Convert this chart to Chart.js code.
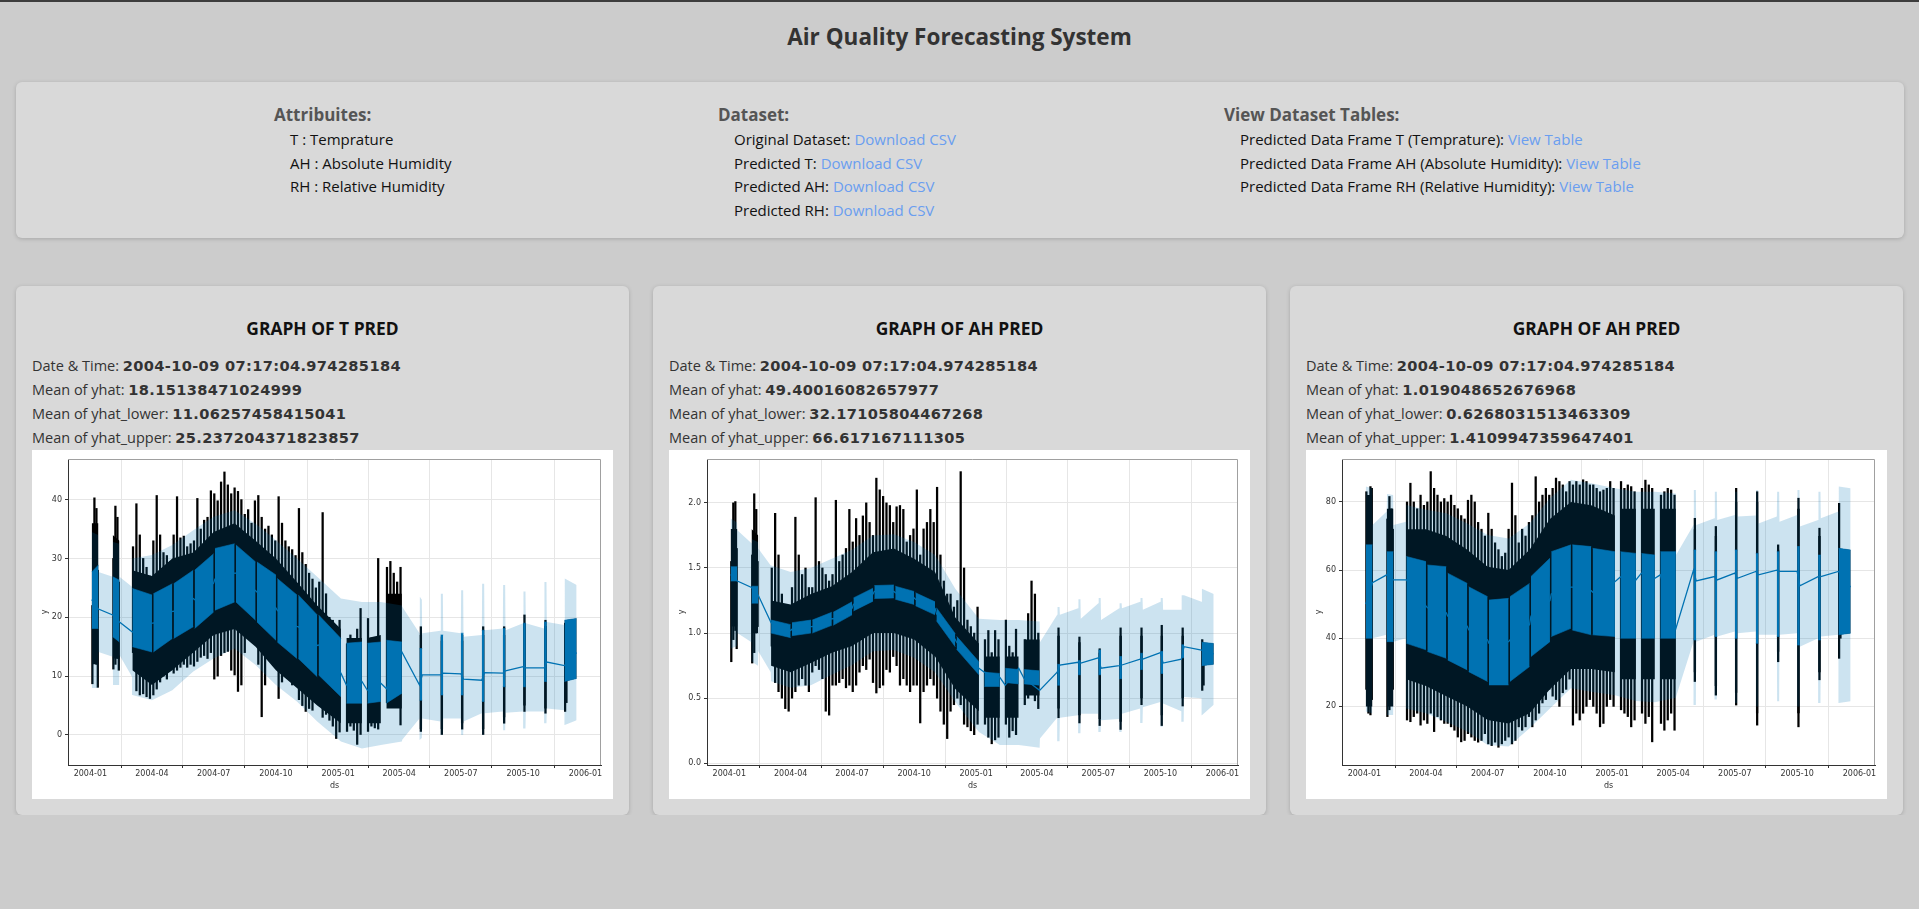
<!DOCTYPE html>
<html>
<head>
<meta charset="utf-8">
<title>Air Quality Forecasting System</title>
<script src="https://cdn.jsdelivr.net/npm/chart.js@4.4.1/dist/chart.umd.min.js"></script>
<style>
  body{margin:0;background:#cccccc;font-family:"Open Sans",sans-serif;border-top:2px solid #3d3d3d;}
  h1{margin:0;height:70px;line-height:70px;text-align:center;font-size:22.5px;font-weight:700;color:#333;}
  .info{margin:10px 15px 0 16px;height:156px;box-sizing:border-box;padding:21px 0 0 258px;background:#d9d9d9;border-radius:6px;box-shadow:0 1px 4px rgba(0,0,0,.18);display:flex;}
  .info .col{flex:none}
  .info .c1{width:444px}.info .c2{width:506px}
  .info h4{margin:0 0 1px;font-size:17px;line-height:24px;color:#555;font-weight:700}
  .info p{margin:0 0 0 16px;font-size:15px;line-height:23.5px;color:#111}
  .info a{color:#6a9ef0;text-decoration:none}
  .row{display:flex;gap:24px;margin:48px 16px 0 16px;}
  .card{flex:1;background:#d9d9d9;border-radius:6px;box-shadow:0 1px 4px rgba(0,0,0,.18);padding:16px;}
  .card h3{margin:14px 0 0;height:24px;line-height:24px;text-align:center;font-size:17.4px;font-weight:700;color:#111}
  .stats{margin-top:14px}
  .stats div{font-size:14.5px;line-height:24px;color:#333;white-space:nowrap}
  .stats b{font-family:"DejaVu Sans",sans-serif;font-size:14.6px;letter-spacing:0.35px;font-weight:700}
  .plot{width:581px;height:349px;background:#fff}
  canvas{display:block}
</style>
</head>
<body>
<h1>Air Quality Forecasting System</h1>
<div class="info">
  <div class="col c1">
    <h4>Attribuites:</h4>
    <p>T : Temprature</p>
    <p>AH : Absolute Humidity</p>
    <p>RH : Relative Humidity</p>
  </div>
  <div class="col c2">
    <h4>Dataset:</h4>
    <p>Original Dataset: <a href="#">Download CSV</a></p>
    <p>Predicted T: <a href="#">Download CSV</a></p>
    <p>Predicted AH: <a href="#">Download CSV</a></p>
    <p>Predicted RH: <a href="#">Download CSV</a></p>
  </div>
  <div class="col">
    <h4>View Dataset Tables:</h4>
    <p>Predicted Data Frame T (Temprature): <a href="#">View Table</a></p>
    <p>Predicted Data Frame AH (Absolute Humidity): <a href="#">View Table</a></p>
    <p>Predicted Data Frame RH (Relative Humidity): <a href="#">View Table</a></p>
  </div>
</div>
<div class="row">
  <div class="card">
    <h3>GRAPH OF T PRED</h3>
    <div class="stats">
      <div>Date &amp; Time: <b>2004-10-09 07:17:04.974285184</b></div>
      <div>Mean of yhat: <b>18.15138471024999</b></div>
      <div>Mean of yhat_lower: <b>11.06257458415041</b></div>
      <div>Mean of yhat_upper: <b>25.237204371823857</b></div>
    </div>
    <div class="plot"><canvas id="chart-t" width="581" height="349"></canvas></div>
  </div>
  <div class="card">
    <h3>GRAPH OF AH PRED</h3>
    <div class="stats">
      <div>Date &amp; Time: <b>2004-10-09 07:17:04.974285184</b></div>
      <div>Mean of yhat: <b>49.40016082657977</b></div>
      <div>Mean of yhat_lower: <b>32.17105804467268</b></div>
      <div>Mean of yhat_upper: <b>66.617167111305</b></div>
    </div>
    <div class="plot"><canvas id="chart-ah" width="581" height="349"></canvas></div>
  </div>
  <div class="card">
    <h3>GRAPH OF AH PRED</h3>
    <div class="stats">
      <div>Date &amp; Time: <b>2004-10-09 07:17:04.974285184</b></div>
      <div>Mean of yhat: <b>1.019048652676968</b></div>
      <div>Mean of yhat_lower: <b>0.6268031513463309</b></div>
      <div>Mean of yhat_upper: <b>1.4109947359647401</b></div>
    </div>
    <div class="plot"><canvas id="chart-rh" width="581" height="349"></canvas></div>
  </div>
</div>
<script>
// ============================================================
// DATA  (x = days since 2004-01-01)
// ============================================================
const TICK_DAYS=[0,91,182,274,366,456,547,639,731];
const TICK_LABELS=['2004-01','2004-04','2004-07','2004-10','2005-01','2005-04','2005-07','2005-10','2006-01'];

// observed y (black dots): min/max per sampled day
const OBS_DAYS=[3,6,9,11, 34,37,40,42, 63,68,73,78,83,88, 93,98,103,108,113,118, 123,128,133,138,143,148,
  153,158,163,168,173,178, 183,188,193,198,203,208,213, 218,223,228,233,238,243, 248,253,258,263,268,273,
  278,283,288,293,298,303, 308,313,318,323,328,333, 338,343,348,353,358,363,368, 379,384,389,394,399,
  410,415,420,425, 438,443,448,453,458, 488,519,549,580,611,641,672, 701,703];

// where the dots are dense (envelope of the dot cloud)
const CORE_DAYS=[2,12,22, 33,43,52, 62,91,121,152,182,213,244,274,305,335,370,374, 378,401,405, 409,429,433,
  437,460,470, 486,490,500, 517,521,530, 547,551,560, 578,582,590, 609,613,620, 639,643,650, 670,674,690, 700,718];

// blocks of hourly forecast (start, end, gap): daily swing of yhat
const FILL_DAYS=[2,12,22, 33,43,52, 62,91,92, 93,121,122, 123,152,153, 154,182,183, 184,213,214, 215,244,245,
  246,274,275, 276,305,306, 307,335,336, 337,370,374, 378,401,405, 409,429,433, 437,460,470, 486,490,500,
  517,521,530, 547,551,560, 578,582,590, 609,613,620, 639,643,650, 670,674,690, 700,718];

// yhat trend line
const YHAT_DAYS=[2,12, 33,43, 62,91, 93,121, 123,152, 154,182, 184,213, 215,244, 246,274, 276,305, 307,335,
  337,370, 378,401, 409,429, 437,460, 486,490, 517,521, 547,551, 578,582, 609,613, 639,643, 670,674, 700,718];

// uncertainty interval
const BAND_DAYS=[2,11.5,12, 33,33.5,42.5,43, 61.5,62, 91,121,152,182,213,244,274,305,335,370,401,429,460, 460.5,
  486,486.5,489.5,490, 517,517.5,520.5,521, 547,547.5,550.5,551, 578,578.5,581.5,582,
  609,609.5,612.5,613, 639,639.5,642.5,643, 670,670.5,673.5,674, 700,700.5,718];

// ---- T ----
const T_OBS_LO=[8.7,14,12,8.1, 11.2,12,13,11, 14,7.5,6.8,7,6.5,6.2, 6.8,7.8,9,10,9.5,11, 10.5,11,11.5,12,11.5,12,
  11.7,12.5,13.2,13.5,13,14, 9.5,10,13.5,14,14.2,11,10.2, 7.4,8.5,14,17,16.5,18, 12,3.1,8.5,13,13.5,13,
  6.2,9,11,10,8.5,9, 6,5,4,4.5,4.2,6.5, 5,3,3.5,2.5,1.5,-0.6,0.5, 0.6,1.5,0.8,-1.6,0,
  0.6,1.5,1.2,1, 5.5,6,5.8,5.6,1.7, 0.6,0,1,0,2,4,3.7, 4,5.5];
const T_OBS_HI=[22,40.3,38.5,28, 30,38.9,37,26, 32,39.3,34,30,28.5,27, 33,40.7,34,31,30.5,29.5, 34,40.5,33.5,33.8,32,32.5,
  33,40.2,35,36.5,37,41.5, 41,39.8,43,44.7,42.5,41,42, 41.4,40,37.5,38.3,36,39.8, 40.7,37,35,35.5,34,33,
  40.5,36,33,32,31.5,30.5, 38.5,31,29,27.5,26.5,25, 26,37.8,24,20,19.5,17,19.5, 15.5,17,16,18,21.5,
  19.8,16.5,16,30, 28.5,29.5,27.5,26,28.5, 18.4,16.7,17,18.4,18.4,20.4,19.5, 19,17.5];
const T_CORE_HI=[36,36,null, 34,33,null, 28,27,30,31,34.5,36,33,30,26,22,18,null, 16.5,16.5,null, 16.5,17,null,
  24,24,null, 17,17,null, 16,16,null, 16,16,null, 17,17,null, 17,17,null, 19,19,null, 18.5,18.5,null, 19.5,19.8];
const T_CORE_LO=[12,12,null, 13,13,null, 11,8.5,11,14,17,18,15,11,8,5,2,null, 2,2,null, 2,2,null,
  4.5,4.5,null, 1,1,null, 1,1,null, 2,2,null, 1,1,null, 3,3,null, 5,5,null, 4.5,4.5,null, 9.1,9.6];
const T_FILL_HI=[27.7,28.9,null, 26.9,26.3,null, 24.9,23.8,null, 24.0,25.7,null, 25.7,28.0,null, 28.0,30.8,null,
  31.7,32.5,null, 32.3,29.4,null, 29.4,27.2,null, 26.6,23.8,null, 23.8,20.4,null, 20.4,16.4,null,
  15.6,15.8,null, 15.6,15.8,null, 16.1,15.8,null, 14.7,14.7,null, 17.0,17.0,null, 17.3,17.3,null,
  17.8,17.8,null, 18.1,18.1,null, 19.0,19.0,null, 19.2,19.2,null, 19.5,19.8];
const T_FILL_LO=[18.1,18.1,null, 16.7,15.8,null, 15.0,14.1,null, 14.1,16.4,null, 16.4,18.4,null, 18.1,20.9,null,
  21.2,22.6,null, 22.6,19.5,null, 19.2,16.1,null, 15.8,13.0,null, 13.0,9.9,null, 10.2,6.5,null,
  5.4,5.4,null, 5.4,5.7,null, 5.4,7.1,null, 5.9,5.9,null, 6.8,6.8,null, 6.8,6.8,null,
  5.7,5.7,null, 8.2,8.2,null, 8.2,8.2,null, 9.1,9.1,null, 9.1,9.6];
const T_YHAT=[23,21.4, 20.4,19.2, 17.5,19.0, 19.0,21.0, 21.0,23.2, 23.0,25.8, 26.5,27.5, 27.5,24.5, 24.3,21.6,
  21.2,18.4, 18.4,15.2, 15.3,10.5, 8.5,9.1, 7.6,8.8, 7.9,14.1, 8.5,10.2, 10.2,10.5, 10.4,9.5, 9.3,10.6,
  10.5,10.9, 11.6,11.4, 11.4,12.4, 11.8,14];
const T_BAND_HI=[34.5,34.0,27.7, 26.9,32.8,32.5,26.9, 25.2,30.0, 30.6,32.3,34.8,37.1,38.2,35.9,33.1,30.0,26.9,23.2,22.6,22.6,22.0, 21.8,
  17.3,23.5,23.0,17.3, 17.7,24.0,24.0,17.7, 17.3,24.6,24.6,16.7, 17.0,25.7,25.7,17.8,
  18.1,25.5,25.5,17.8, 19.0,24.4,24.4,19.0, 18.1,26.0,26.0,19.2, 18.7,26.6,25.5];
const T_BAND_LO=[8.0,8.0,14.1, 13.3,8.5,8.5,13.6, 9.9,6.8, 5.9,7.6,10.8,13.0,14.7,11.9,8.5,5.7,2.3,-1.1,-2.3,-1.7,-1.1, -0.8,
  2.8,-0.8,-0.5,2.8, 2.3,0.0,0.0,2.8, 2.8,0.0,0.0,2.3, 3.7,0.0,0.0,3.7,
  4.0,0.8,0.8,3.8, 4.0,1.1,1.1,4.0, 4.0,2.0,2.0,4.5, 4.2,1.7,2.5];
const T_YTICKS=[0,10,20,30,40];

// ---- AH ----
const AH_OBS_LO=[0.78,0.95,1.02,0.88, 0.77,0.85,1.0,1.05, 0.9,0.62,0.55,0.5,0.42,0.4, 0.5,0.55,0.6,0.65,0.6,0.55,
  0.7,0.75,0.72,0.65,0.4,0.37, 0.6,0.6,0.62,0.65,0.58,0.6, 0.55,0.6,0.7,0.75,0.72,0.8,0.62,
  0.54,0.58,0.6,0.72,0.7,0.82, 0.75,0.6,0.65,0.6,0.55,0.6, 0.6,0.31,0.55,0.6,0.65,0.6,
  0.5,0.4,0.3,0.19,0.4,0.45, 0.5,0.45,0.3,0.28,0.25,0.22,0.3, 0.3,0.2,0.15,0.18,0.2,
  0.3,0.2,0.25,0.22, 0.45,0.5,0.55,0.48,0.42, 0.35,0.31,0.29,0.26,0.45,0.29,0.44, 0.56,0.6];
const AH_OBS_HI=[1.55,2.0,2.01,1.65, 1.6,2.07,1.95,1.55, 1.5,1.92,1.6,1.3,1.2,1.15, 1.35,1.89,1.6,1.45,1.5,1.35,
  1.35,2.04,1.55,1.5,1.45,1.4, 1.45,2.02,1.55,1.6,1.65,1.95, 1.7,1.88,1.75,1.9,2.0,1.85,1.75,
  2.19,2.1,2.05,2.0,1.98,1.85, 1.97,1.98,1.95,1.7,1.75,1.8, 2.1,1.6,1.8,1.85,1.95,1.85,
  2.12,1.6,1.4,1.3,1.3,1.2, 1.25,2.24,1.5,1.1,1.05,1.0,1.2, 0.95,1.02,0.85,1.02,0.95,
  1.1,0.9,0.85,1.03, 0.95,1.15,1.4,1.3,1.0, 1.04,0.97,0.88,1.04,1.04,1.06,1.04, 0.95,0.9];
const AH_CORE_HI=[1.8,1.8,null, 1.8,1.75,null, 1.25,1.22,1.3,1.36,1.47,1.62,1.65,1.57,1.47,1.12,0.92,null, 0.82,0.82,null,
  0.82,0.82,null, 0.95,0.95,null, 0.98,0.98,null, 0.93,0.93,null, 0.85,0.85,null, 0.98,0.98,null,
  0.98,0.98,null, 0.98,0.98,null, 0.98,0.98,null, 0.93,0.92];
const AH_CORE_LO=[1.05,1.05,null, 1.0,1.0,null, 0.75,0.7,0.77,0.85,0.9,1.0,1.0,0.95,0.82,0.57,0.4,null, 0.35,0.35,null,
  0.35,0.35,null, 0.52,0.52,null, 0.42,0.42,null, 0.37,0.37,null, 0.34,0.34,null, 0.32,0.32,null,
  0.5,0.5,null, 0.37,0.37,null, 0.5,0.5,null, 0.75,0.76];
const AH_FILL_HI=[1.51,1.51,null, 1.36,1.36,null, 1.10,1.065,null, 1.08,1.10,null, 1.10,1.16,null, 1.16,1.24,null,
  1.27,1.345,null, 1.365,1.37,null, 1.36,1.32,null, 1.31,1.24,null, 1.195,0.995,null, 0.975,0.78,null,
  0.70,0.69,null, 0.73,0.72,null, 0.72,0.71,null, 0.76,0.76,null, 0.79,0.79,null, 0.87,0.87,null,
  0.82,0.82,null, 0.845,0.845,null, 0.86,0.86,null, 0.91,0.91,null, 0.93,0.92];
const AH_FILL_LO=[1.40,1.40,null, 1.23,1.23,null, 1.00,0.965,null, 0.98,1.00,null, 1.00,1.06,null, 1.06,1.14,null,
  1.17,1.245,null, 1.265,1.27,null, 1.26,1.22,null, 1.21,1.14,null, 1.095,0.895,null, 0.875,0.68,null,
  0.59,0.59,null, 0.62,0.61,null, 0.61,0.60,null, 0.60,0.60,null, 0.68,0.68,null, 0.68,0.68,null,
  0.65,0.65,null, 0.72,0.72,null, 0.69,0.69,null, 0.81,0.81,null, 0.75,0.76];
const AH_YHAT=[1.45,1.40, 1.35,1.29, 1.08,1.02, 1.03,1.05, 1.05,1.11, 1.11,1.19, 1.22,1.30, 1.32,1.32, 1.31,1.27,
  1.26,1.19, 1.15,0.95, 0.93,0.73, 0.70,0.66, 0.60,0.73, 0.65,0.56, 0.70,0.755, 0.776,0.77, 0.81,0.73,
  0.75,0.755, 0.80,0.80, 0.85,0.77, 0.80,0.896, 0.87,0.84];
const AH_BAND_HI=[1.88,1.85,1.79, 1.69,1.72,1.70,1.65, 1.52,1.52, 1.47,1.50,1.57,1.64,1.75,1.76,1.70,1.60,1.34,1.11,1.10,1.10,1.09, 0.93,
  1.14,1.20,1.20,1.14, 1.19,1.26,1.26,1.11, 1.23,1.27,1.27,1.10, 1.19,1.23,1.23,1.19,
  1.24,1.27,1.27,1.18, 1.24,1.27,1.27,1.18, 1.18,1.29,1.29,1.29, 1.24,1.34,1.30];
const AH_BAND_LO=[0.88,0.90,1.00, 0.93,0.78,0.75,0.86, 0.70,0.63, 0.58,0.60,0.68,0.755,0.86,0.87,0.81,0.70,0.47,0.24,0.14,0.14,0.12, 0.19,
  0.35,0.17,0.17,0.35, 0.37,0.23,0.23,0.38, 0.38,0.24,0.24,0.33, 0.34,0.24,0.24,0.38,
  0.42,0.31,0.31,0.43, 0.47,0.28,0.28,0.46, 0.40,0.32,0.32,0.51, 0.50,0.37,0.45];
const AH_YTICKS=[0,0.5,1,1.5,2];

// ---- RH ----
const RH_OBS_LO=[25,18,17.5,22, 17,19,22,25, 16,15.5,17,18,14.5,16, 15,18,12.6,17,16,15, 15,14,13,11,9.6,10,
  12,11,10,9.5,10,12, 9,8.5,9.5,8,9,10,11, 9,10,14,13,14,17, 14,16,18,21,22,25, 23,22,20,24,25,28,
  14.5,18,16,18,20,22, 20,18,14,15,20,22,20, 19,18,17,14,16, 18,15,17,9.6, 15,13,16,18,13,
  27.3,23.3,20.4,14.5,33.1,14,27.8, 34.1,40];
const RH_OBS_HI=[83,80,84.5,84, 75,81.6,78,72, 80,85.5,80,78,82,79, 80,88.9,84,82,80,81, 80,82,79,78,76,75,
  80.5,82,80,74,72,70, 76.7,72,68,66,64,65,72, 85.5,76,68,72,70,74, 76,87.4,80,82,84,82, 84,87,86,85,83,86,
  85,86,85,86.5,86,85, 85,84,83,83.5,84,86,84, 86,84,85,84.5,83, 84,86.4,85,84, 82,83,84,83.5,82,
  75.2,72.8,84,83,67.4,81.1,72.3, 79.6,66];
const RH_CORE_HI=[82,82,null, 78,78,null, 72,72,70,66,61,60,66,75,80,79,76,null, 78,78,null, 78,78,null,
  78,78,null, 72,72,null, 70,70,null, 80,80,null, 80,80,null, 66,66,null, 78,78,null, 70,70,null, 66.4,65.9];
const RH_CORE_LO=[20,20,null, 20,20,null, 28,26,23,20,16,15,18,25,31,31,30,null, 28,28,null, 28,28,null,
  28,28,null, 30,30,null, 26,26,null, 24,24,null, 18,18,null, 36,36,null, 18,18,null, 30,30,null, 41.0,41.5];
const RH_FILL_HI=[67.4,67.4,null, 65.4,65.4,null, 64.0,62.5,null, 61.5,61.0,null, 59.1,56.1,null, 55.1,52.2,null,
  51.2,51.7,null, 52.2,56.1,null, 58.1,63.5,null, 65.4,67.4,null, 67.4,66.9,null, 66.4,65.4,null,
  65.4,64.9,null, 64.9,64.4,null, 65.4,65.4,null, 65.9,65.9,null, 65.4,65.4,null, 65.9,65.9,null,
  64.9,64.9,null, 65.4,65.4,null, 66.9,66.9,null, 64.4,64.4,null, 66.4,65.9];
const RH_FILL_LO=[40.0,40.0,null, 39.0,39.0,null, 38.5,36.6,null, 36.1,34.1,null, 33.6,30.7,null, 30.2,27.3,null,
  26.3,26.3,null, 27.3,31.7,null, 34.6,39.0,null, 40.5,42.9,null, 42.4,41.0,null, 41.0,40.5,null,
  40.0,40.0,null, 40.0,40.0,null, 40.0,40.0,null, 39.5,39.5,null, 40.5,40.5,null, 40.0,40.0,null,
  38.5,38.5,null, 40.5,40.5,null, 38.0,38.0,null, 39.5,39.5,null, 41.0,41.5];
const RH_YHAT=[50,56.3, 58.6,57.1, 57.1,49.5, 49,47.5, 46.5,43.5, 42.5,39.5, 38.5,39, 39.5,44, 46.5,51, 53,55,
  55,54, 53.5,56.6, 58,57.1, 59.1,57.6, 58.6,42.9, 60.0,56.8, 58.1,57.1, 59.1,57.6, 59.6,58.6,
  60.0,59.6, 59.6,55.4, 58.1,58.1, 59.6,55];
const RH_BAND_HI=[84.5,84.0,73.2, 77.2,82.3,82.0,73.2, 74.2,79.1, 77.7,76.7,73.7,70.3,69.3,73.7,81.1,86.5,85.5,84.0,83.0,83.0,82.5, 64.5,
  73.2,83.5,83.5,73.2, 75.2,83.0,83.0,74.7, 76.2,83.0,83.0,75.7, 76.0,83.5,83.5,73.7,
  75.7,83.0,83.0,74.2, 76.2,83.5,83.5,72.8, 74.7,83.0,83.0,75.2, 77.2,84.5,84.0];
const RH_BAND_LO=[18.5,18.0,40.0, 41.0,17.5,17.5,39.0, 40.0,19.4, 18.0,15.5,12.6,8.7,8.2,13.6,19.4,25.3,24.3,23.3,21.6,21.2,22.5, 23.0,
  39.0,20.4,20.4,39.0, 41.0,22.0,22.0,40.5, 42.0,21.0,21.0,41.5, 42.0,20.0,20.0,41.0,
  41.0,21.5,21.5,41.0, 41.5,20.0,20.0,37.5, 40.0,21.0,21.0,40.5, 41.0,21.0,21.5];
const RH_YTICKS=[20,40,60,80];

// ============================================================
// CHARTS
// ============================================================
const PROPHET_BLUE='#0072B2';
const AXIS_FONT={family:'DejaVu Sans',size:8};

function pts(days,vals){return days.map((d,i)=>({x:d,y:vals[i]}));}
function cols(lo,hi){return OBS_DAYS.map((d,i)=>({x:d,y:[lo[i],hi[i]]}));}
function area(days,vals,o){return Object.assign({data:pts(days,vals),pointRadius:0,borderWidth:0,borderColor:'transparent'},o);}

// matplotlib-like top/right spines
const spines={id:'spines',afterDraw(c){
  const {ctx,chartArea:a}=c;
  ctx.save();ctx.strokeStyle='#a0a0a0';ctx.lineWidth=1;
  ctx.beginPath();ctx.moveTo(a.left,a.top+0.5);ctx.lineTo(a.right-0.5,a.top+0.5);ctx.lineTo(a.right-0.5,a.bottom);ctx.stroke();
  ctx.restore();
}};

function renderForecast(id,s){
  const grid={color:'#e6e6e6',lineWidth:1,tickColor:'#333',tickLength:3};
  return new Chart(document.getElementById(id),{
    type:'line',
    data:{datasets:[
      area(BAND_DAYS,s.bandHi,{label:'yhat_upper',fill:'+1',backgroundColor:'rgba(0,114,178,0.2)',order:0}),
      area(BAND_DAYS,s.bandLo,{label:'yhat_lower',fill:false,order:0}),
      area(FILL_DAYS,s.fillHi,{label:'yhat max',fill:'+1',backgroundColor:PROPHET_BLUE,borderColor:PROPHET_BLUE,borderWidth:0.6,order:1}),
      area(FILL_DAYS,s.fillLo,{label:'yhat min',fill:false,borderColor:PROPHET_BLUE,borderWidth:0.6,order:1}),
      {label:'yhat',data:pts(YHAT_DAYS,s.yhat),fill:false,borderColor:PROPHET_BLUE,borderWidth:1.3,pointRadius:0,order:1},
      {type:'bar',label:'y',data:cols(s.obsLo,s.obsHi),backgroundColor:'#000',borderWidth:0,barThickness:1.6,order:2},
      area(CORE_DAYS,s.coreHi,{label:'y dense hi',fill:'+1',backgroundColor:'#000',order:3}),
      area(CORE_DAYS,s.coreLo,{label:'y dense lo',fill:false,order:3})
    ]},
    options:{
      animation:false,responsive:false,events:[],
      layout:{padding:{left:8,right:12,top:9,bottom:0}},
      plugins:{legend:{display:false},tooltip:{enabled:false}},
      scales:{
        x:{type:'linear',min:-33,max:754,offset:false,
          afterBuildTicks:sc=>{sc.ticks=TICK_DAYS.map(v=>({value:v}));},
          afterFit:sc=>{sc.height=34;},
          ticks:{autoSkip:false,maxRotation:0,padding:1.5,color:'#333',font:AXIS_FONT,callback:v=>TICK_LABELS[TICK_DAYS.indexOf(v)]},
          grid:grid,border:{color:'#333',width:1},
          title:{display:true,text:'ds',color:'#333',font:AXIS_FONT,padding:{top:0,bottom:8}}},
        y:{type:'linear',min:s.yMin,max:s.yMax,
          afterBuildTicks:sc=>{sc.ticks=s.yTicks.map(v=>({value:v}));},
          afterFit:sc=>{sc.width=s.yWidth;},
          ticks:{padding:3,color:'#333',font:AXIS_FONT,callback:v=>s.fmt(v)},
          grid:grid,border:{color:'#333',width:1},
          title:{display:true,text:'y',color:'#333',font:AXIS_FONT,padding:{top:0,bottom:0}}}
      }
    },
    plugins:[spines]
  });
}

renderForecast('chart-t',{obsLo:T_OBS_LO,obsHi:T_OBS_HI,coreLo:T_CORE_LO,coreHi:T_CORE_HI,fillLo:T_FILL_LO,fillHi:T_FILL_HI,
  yhat:T_YHAT,bandLo:T_BAND_LO,bandHi:T_BAND_HI,yTicks:T_YTICKS,yMin:-5.1,yMax:46.9,yWidth:28,fmt:v=>String(v)});
renderForecast('chart-ah',{obsLo:AH_OBS_LO,obsHi:AH_OBS_HI,coreLo:AH_CORE_LO,coreHi:AH_CORE_HI,fillLo:AH_FILL_LO,fillHi:AH_FILL_HI,
  yhat:AH_YHAT,bandLo:AH_BAND_LO,bandHi:AH_BAND_HI,yTicks:AH_YTICKS,yMin:-0.013,yMax:2.337,yWidth:30,fmt:v=>v.toFixed(1)});
renderForecast('chart-rh',{obsLo:RH_OBS_LO,obsHi:RH_OBS_HI,coreLo:RH_CORE_LO,coreHi:RH_CORE_HI,fillLo:RH_FILL_LO,fillHi:RH_FILL_HI,
  yhat:RH_YHAT,bandLo:RH_BAND_LO,bandHi:RH_BAND_HI,yTicks:RH_YTICKS,yMin:2.8,yMax:92.6,yWidth:28,fmt:v=>String(v)});
</script>
</body>
</html>
